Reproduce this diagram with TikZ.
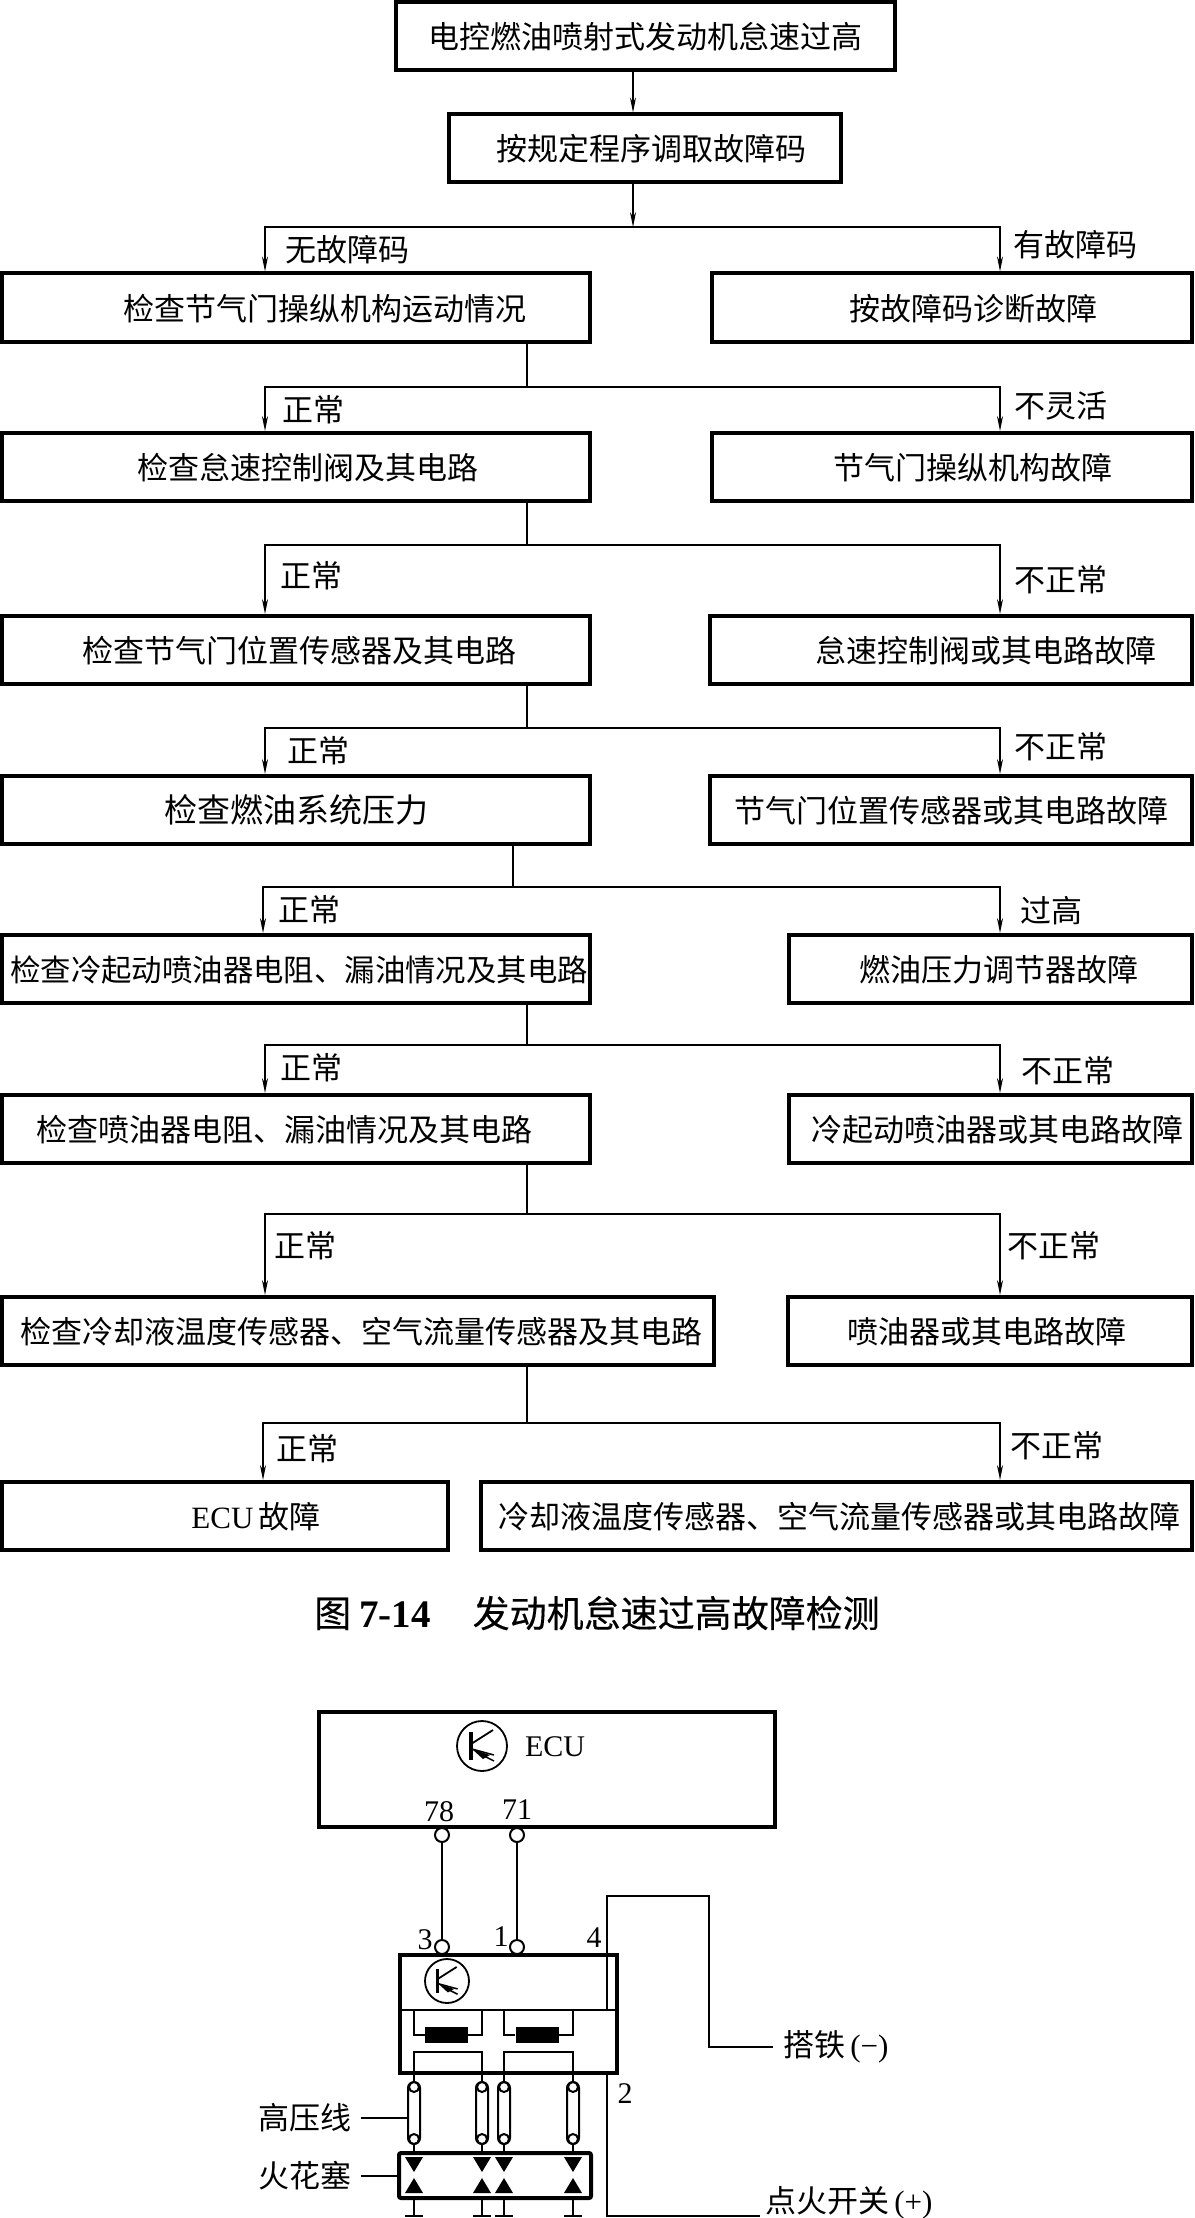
\documentclass[tikz,border=0pt]{standalone}
\usepackage{fontspec}
\setmainfont{Noto Sans CJK SC}
\newfontfamily\latfont{Liberation Serif}
\newfontfamily\capfont[FakeBold=0.3]{Noto Sans CJK SC}
\usetikzlibrary{arrows.meta}

\begin{document}
\begin{tikzpicture}[%
    x=1pt, y=-1pt,                 % Coordinates are pixels of the page
    >={Stealth[length=15pt,width=6pt]},
    every node/.style={inner sep=0pt},
    ]
% -------------------------------------------------
% A few box styles
\tikzset{
  base/.style={draw, align=center, font=\fontsize{31}{36}\selectfont},
  proc/.style={base, line width=4pt, minimum height=68pt, text height=28pt, text depth=3pt},
  tag/.style={font=\fontsize{31}{36}\selectfont},
  num/.style={font=\fontsize{30}{34}\latfont},
  % Connector line styles for different parts of the diagram
  norm/.style={->, line width=1.4pt},
  plain/.style={line width=1.4pt},
  wire/.style={line width=2pt},
  hole/.style={circle, draw, fill=white, line width=2pt, minimum size=14pt},
  coil/.style={fill=black, minimum width=43pt, minimum height=16pt},
  % The symbol of ECU and igniter
  trans/.pic={
    \draw [line width=1.8pt] (0,0) circle [radius=25pt];
    \draw [line width=3.5pt] (-11,-14) -- (-11,14);
    \draw [line width=1.8pt] (-11,-2) -- (11,-16);
    \fill (-10,3) -- (8,9) -- (1,13) -- cycle;
    \draw [line width=1.5pt] (-10,3) -- (12,9) (0,9) -- (12,15);
  },
  % One high tension lead with its spark gap
  lead/.pic={
    \node [draw, line width=2pt, rounded corners=6pt, minimum width=12pt,
      minimum height=62pt] (-cap) at (0,0) {};
    \node [circle, draw, fill=white, line width=2pt, minimum size=10pt] (-top) at (0,-26) {};
    \node [circle, draw, fill=white, line width=2pt, minimum size=10pt] (-bot) at (0,26) {};
    \fill (-9,44) -- (9,44) -- (0,59) -- cycle;
    \fill (-9,80) -- (9,80) -- (0,65) -- cycle;
    \draw [wire] (0,85) -- (0,103) (-9,103) -- (9,103);
  },
}
% -------------------------------------------------
% Start by placing the nodes
\useasboundingbox (0,0) rectangle (1194,2218);
\node [proc] (p0) at (645.5,36) [minimum width=499pt] {电控燃油喷射式发动机怠速过高};
\node [proc] (p1) at (645,148.5) [minimum width=392pt] {\hspace*{12pt}按规定程序调取故障码};
\node [proc] (p2) at (296,307.5) [minimum width=588pt] {\hspace*{58pt}检查节气门操纵机构运动情况};
\node [proc] (f2) at (952,307.5) [minimum width=480pt] {\hspace*{42pt}按故障码诊断故障};
\node [proc] (p3) at (296,467) [minimum width=588pt] {\hspace*{24pt}检查怠速控制阀及其电路};
\node [proc] (f3) at (952,467) [minimum width=480pt] {\hspace*{42pt}节气门操纵机构故障};
\node [proc] (p4) at (296,650) [minimum width=588pt] {\hspace*{6pt}检查节气门位置传感器及其电路};
\node [proc] (f4) at (951,650) [minimum width=482pt] {\hspace*{70pt}怠速控制阀或其电路故障};
\node [proc, font=\fontsize{33}{36}\selectfont] (p5) at (296,810) [minimum width=588pt] {检查燃油系统压力};
\node [proc] (f5) at (951,810) [minimum width=482pt] {节气门位置传感器或其电路故障};
\node [proc, font=\fontsize{30.4}{36}\selectfont] (p6) at (296,969) [minimum width=588pt] {\hspace*{6pt}检查冷起动喷油器电阻、漏油情况及其电路};
\node [proc] (f6) at (990,969) [minimum width=403pt] {\hspace*{18pt}燃油压力调节器故障};
\node [proc] (p7) at (296,1129) [minimum width=588pt] {检查喷油器电阻、漏油情况及其电路\hspace*{24pt}};
\node [proc] (f7) at (990,1129) [minimum width=403pt] {\hspace*{14pt}冷起动喷油器或其电路故障};
\node [proc] (p8) at (358,1331) [minimum width=712pt] {\hspace*{6pt}检查冷却液温度传感器、空气流量传感器及其电路};
\node [proc] (f8) at (990,1331) [minimum width=404pt] {喷油器或其电路故障\hspace*{6pt}};
\node [proc] (p9) at (225,1516) [minimum width=446pt] {\hspace*{62pt}{\latfont ECU}\,故障};
\node [proc] (f9) at (836,1516) [minimum width=711pt] {\hspace*{6pt}冷却液温度传感器、空气流量传感器或其电路故障};

% The branch labels
\node [tag] (t1) at (347,250) {无故障码};
\node [tag] (u1) at (1075,245) {有故障码};
\node [tag] (t2) at (313,410) {正常};
\node [tag] (u2) at (1061,406) {不灵活};
\node [tag] (t3) at (311,576) {正常};
\node [tag] (u3) at (1061,580) {不正常};
\node [tag] (t4) at (318,751) {正常};
\node [tag] (u4) at (1061,747) {不正常};
\node [tag] (t5) at (309,910) {正常};
\node [tag] (u5) at (1051,911) {过高};
\node [tag] (t6) at (311,1068) {正常};
\node [tag] (u6) at (1068,1071) {不正常};
\node [tag] (t7) at (305,1246) {正常};
\node [tag] (u7) at (1054,1246) {不正常};
\node [tag] (t8) at (307,1449) {正常};
\node [tag] (u8) at (1057,1446) {不正常};

\node (fig) at (314,1613) [anchor=west, font=\fontsize{37}{40}\capfont]
  {图\hspace{8pt}{\latfont\bfseries\fontsize{39}{40}\selectfont 7-14}\hspace{42pt}发动机怠速过高故障检测};

% -------------------------------------------------
% Use one stem and a bar for each pair of branches
\coordinate (lx) at (265,0);
\coordinate (ly) at (263,0);
\coordinate (rx) at (1000,0);
\coordinate (s1) at (633,227);
\coordinate (s2) at (527,387);
\coordinate (s3) at (527,545);
\coordinate (s4) at (527,728);
\coordinate (s5) at (513,887);
\coordinate (s6) at (527,1045);
\coordinate (s7) at (527,1214);
\coordinate (s8) at (527,1423);

\draw [norm] (s1 |- p0.south) -- (s1 |- p1.north);
\draw [norm] (s1 |- p1.south) -- (s1);
\draw [norm] (s1) -| (lx |- p2.north);
\draw [norm] (s1) -| (rx |- f2.north);
\draw [plain] (s2 |- p2.south) -- (s2);
\draw [norm] (s2) -| (lx |- p3.north);
\draw [norm] (s2) -| (rx |- f3.north);
\draw [plain] (s3 |- p3.south) -- (s3);
\draw [norm] (s3) -| (lx |- p4.north);
\draw [norm] (s3) -| (rx |- f4.north);
\draw [plain] (s4 |- p4.south) -- (s4);
\draw [norm] (s4) -| (lx |- p5.north);
\draw [norm] (s4) -| (rx |- f5.north);
\draw [plain] (s5 |- p5.south) -- (s5);
\draw [norm] (s5) -| (ly |- p6.north);
\draw [norm] (s5) -| (rx |- f6.north);
\draw [plain] (s6 |- p6.south) -- (s6);
\draw [norm] (s6) -| (lx |- p7.north);
\draw [norm] (s6) -| (rx |- f7.north);
\draw [plain] (s7 |- p7.south) -- (s7);
\draw [norm] (s7) -| (lx |- p8.north);
\draw [norm] (s7) -| (rx |- f8.north);
\draw [plain] (s8 |- p8.south) -- (s8);
\draw [norm] (s8) -| (ly |- p9.north);
\draw [norm] (s8) -| (rx |- f9.north);

% -------------------------------------------------
% The circuit below the caption
\node [draw, line width=4pt, minimum width=456pt, minimum height=115pt] (ecu) at (547,1769.5) {};
\pic at (482,1746) {trans};
\node [num] (ecut) at (555,1747) {ECU};
\node [num] (n78) at (439,1812) {78};
\node [num] (n71) at (517,1810) {71};
\node [hole] (h78) at (442,1835) {};
\node [hole] (h71) at (517,1835) {};
\node [hole] (h3) at (442,1947) {};
\node [hole] (h1) at (517,1947) {};
\draw [wire] (h78) -- (h3);
\draw [wire] (h71) -- (h1);
\node [num] (n3) at (425,1940) {3};
\node [num] (n1) at (501,1937) {1};
\node [num] (n4) at (594,1938) {4};
\node [num] (n2) at (625,2094) {2};

\node [draw, line width=4pt, minimum width=217pt, minimum height=118pt] (ign) at (508.5,2014) {};
\coordinate (dv) at (400,2010);
\draw [wire] (dv) -- (dv -| ign.east);
\pic [scale=.88] at (447,1981) {trans};
\node [coil] (c1) at (446.5,2035) {};
\node [coil] (c2) at (537,2035) {};

\pic (w1) at (414,2113) {lead};
\pic (w2) at (482,2113) {lead};
\pic (w3) at (504,2113) {lead};
\pic (w4) at (573,2113) {lead};
\node [draw, line width=4pt, rounded corners=2pt, minimum width=192pt, minimum height=45pt] (plug) at (495,2175.5) {};

\coordinate (lw1) at (446,2052);
\coordinate (lw2) at (537,2052);
\draw [wire] (c1.west) -| (w1-top |- dv);
\draw [wire] (c1.east) -| (w2-top |- dv);
\draw [wire] (c2.west) -| (w3-top |- dv);
\draw [wire] (c2.east) -| (w4-top |- dv);
\draw [wire] (w1-top |- ign.south) |- (lw1) -| (w2-top |- ign.south);
\draw [wire] (w3-top |- ign.south) |- (lw2) -| (w4-top |- ign.south);
\draw [wire] (w1-top |- ign.south) -- (w1-top) (w1-bot) -- (w1-bot |- plug.north);
\draw [wire] (w2-top |- ign.south) -- (w2-top) (w2-bot) -- (w2-bot |- plug.north);
\draw [wire] (w3-top |- ign.south) -- (w3-top) (w3-bot) -- (w3-bot |- plug.north);
\draw [wire] (w4-top |- ign.south) -- (w4-top) (w4-bot) -- (w4-bot |- plug.north);

\node [tag, anchor=west] (gnd) at (783,2047) {搭铁\,{\latfont (−)}};
\node [tag, anchor=west] (sw) at (765,2203) {点火开关\,{\latfont (+)}};
\node [tag] (hv) at (305,2118) {高压线};
\node [tag] (spk) at (305,2176) {火花塞};
\coordinate (g0) at (607,2010);
\coordinate (g1) at (709,1896);
\coordinate (g2) at (607,2073);
\coordinate (g3) at (760,2216);
\draw [wire] (g0) |- (g1) |- (gnd.west -| 773,0);
\draw [wire] (g2) |- (g3);
\draw [plain] (hv.east) ++(9,0) -- (hv.east -| w1-cap.west);
\draw [plain] (spk.east) ++(9,0) -- (spk.east -| plug.west);
% -------------------------------------------------
\end{tikzpicture}
\end{document}
